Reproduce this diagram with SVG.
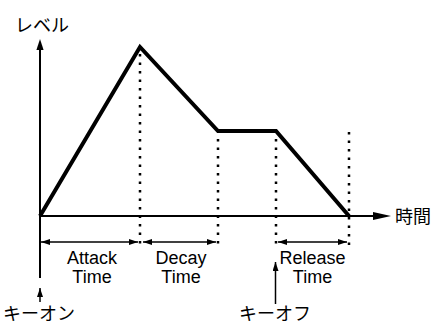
<svg xmlns="http://www.w3.org/2000/svg" width="432" height="325" viewBox="0 0 432 325">
<style>
.ax{stroke:#000;stroke-width:2;fill:none}
.env{stroke:#000;stroke-width:4;fill:none;stroke-linejoin:miter;stroke-miterlimit:10}
.dot{stroke:#000;stroke-width:2.5;fill:none;stroke-dasharray:2.5 6}
.dim{stroke:#000;stroke-width:1.5;fill:none}
.head{fill:#000}
.lat{font-family:"Liberation Sans",Arial,sans-serif;font-size:18px;text-anchor:middle;fill:#000}
.jp{font-family:"Noto Sans CJK JP","Noto Sans",sans-serif;font-size:18px;fill:#000}
</style>
<defs>
<marker id="dh" markerUnits="userSpaceOnUse" viewBox="0 0 9 6" refX="9" refY="3" markerWidth="9" markerHeight="6" orient="auto-start-reverse">
<path d="M0,0 L9,3 L0,6 Z" class="head"/>
</marker>
<marker id="kh" markerUnits="userSpaceOnUse" viewBox="0 0 9 6" refX="9" refY="3" markerWidth="9" markerHeight="6" orient="auto">
<path d="M0,0 L9,3 L0,6 Z" class="head"/>
</marker>
</defs>
<g id="connectors">
<line class="ax" x1="40" y1="278" x2="40" y2="49"/>
<polygon class="head" points="40,39 43.6,50 36.4,50"/>
<line class="ax" x1="40" y1="216" x2="375" y2="216"/>
<polygon class="head" points="391,216 373,212 373,220"/>
<polyline class="env" points="40,216 140,47 218,131 276,131 349,216"/>
<line class="dot" x1="140" y1="54" x2="140" y2="247"/>
<line class="dot" x1="218" y1="139" x2="218" y2="247"/>
<line class="dot" x1="276" y1="139" x2="276" y2="247"/>
<line class="dot" x1="349" y1="132" x2="349" y2="247"/>
<line class="dim" x1="41" y1="242" x2="138" y2="242" marker-start="url(#dh)" marker-end="url(#dh)"/>
<line class="dim" x1="143" y1="242" x2="216" y2="242" marker-start="url(#dh)" marker-end="url(#dh)"/>
<line class="dim" x1="278" y1="242" x2="347" y2="242" marker-start="url(#dh)" marker-end="url(#dh)"/>
<line class="dim" x1="40" y1="302" x2="40" y2="288" marker-end="url(#kh)"/>
<line class="dim" x1="275.5" y1="304" x2="275.5" y2="262" marker-end="url(#kh)"/>
</g>
<g id="level-label"><text class="jp" x="15" y="31.5">レベル</text></g>
<g id="time-label"><text class="jp" x="395" y="222.5">時間</text></g>
<g id="attack-time"><text class="lat" x="92" y="264">Attack</text><text class="lat" x="92" y="282.5">Time</text></g>
<g id="decay-time"><text class="lat" x="181" y="264">Decay</text><text class="lat" x="181" y="282.5">Time</text></g>
<g id="release-time"><text class="lat" x="312.5" y="264">Release</text><text class="lat" x="312.5" y="282.5">Time</text></g>
<g id="key-on"><text class="jp" x="3" y="319.5">キーオン</text></g>
<g id="key-off"><text class="jp" x="239" y="319.5">キーオフ</text></g>
</svg>
